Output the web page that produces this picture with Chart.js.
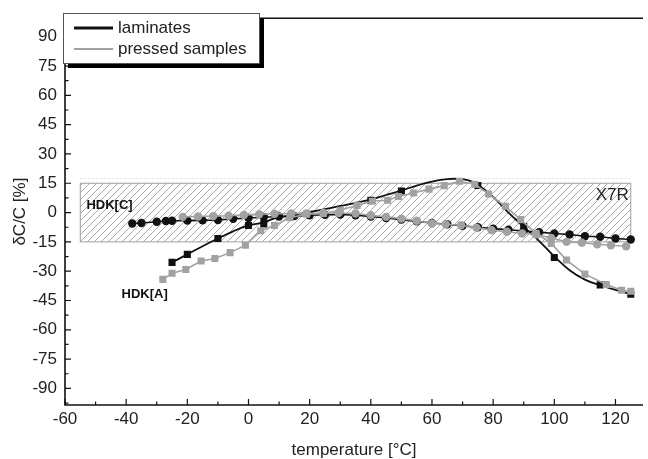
<!DOCTYPE html>
<html>
<head>
<meta charset="utf-8">
<script src="https://cdn.jsdelivr.net/npm/chart.js@4.4.0/dist/chart.umd.min.js"></script>
<style>
  html, body { margin: 0; padding: 0; background: #fff; }
  #wrap { width: 648px; height: 459px; }
</style>
</head>
<body>
<div id="wrap"><canvas id="chart" width="648" height="459"></canvas></div>
<script>
// HDK[C] laminates (black circles)
const lamCTemp = [-38,-35,-30,-27,-25,-20,-15,-10,-5,0,5,10,15,20,25,30,35,40,45,50,55,60,65,70,75,80,85,90,95,100,105,110,115,120,125];
const lamCVal  = [-5.6,-5.3,-4.7,-4.3,-4.2,-4.1,-4.0,-3.8,-3.2,-2.8,-2.4,-2.0,-1.8,-1.4,-1.1,-1.0,-1.4,-2.0,-2.8,-3.6,-4.5,-5.3,-6.0,-6.8,-7.5,-8.2,-8.8,-9.4,-10.0,-10.7,-11.2,-12.1,-12.4,-13.3,-13.8];

// HDK[C] pressed samples (grey circles)
const pressCTemp = [-21.5,-16.5,-11.5,-6.5,-1.5,3.5,8.5,14,19,24.5,29.5,35,40,45,50,55,60,64.5,69.5,74.5,79.5,84.5,89.5,94,99,104,109,114,118.5,123.5];
const pressCVal  = [-2.2,-2.0,-1.8,-1.6,-1.2,-0.9,-0.6,-0.5,-0.5,-0.2,-0.2,-0.5,-1.4,-2.2,-3.1,-4.2,-5.6,-6.0,-6.5,-7.7,-9.0,-9.8,-10.7,-11.1,-13.0,-15.0,-15.4,-16.2,-16.7,-17.2];

// HDK[A] laminates (black squares) and the fitted curve through them
const lamATemp = [-25,-20,-10,0,5,40,50,75,90,100,115,125];
const lamAVal  = [-25.5,-21.4,-13.3,-6.6,-5.8,6.3,11.0,13.9,-7.2,-23.0,-37.0,-41.8];
const fitTemp = [-25,-20,-15,-10,-5,0,5,8,12,16,20,25,30,35,40,45,50,55,60,65,68,72,75,80,85,90,95,100,105,110,115,120,125];
const fitVal  = [-25.5,-21.4,-17.2,-13.3,-9.6,-6.6,-5.0,-3.2,-1.9,-0.8,0.3,1.8,3.4,5.0,6.8,9.0,11.3,13.8,15.9,17.1,17.3,16.5,14.2,8.0,0,-7.3,-14.5,-22.5,-29.5,-34.3,-37.2,-39.6,-41.7];

// HDK[A] pressed samples (grey squares)
const pressATemp = [-28,-25,-20.5,-15.5,-11,-6,-1,4,8.5,13.5,19,24.5,30,35.5,40.5,45.5,49,54,59,64,69,74,78.5,84,89,94,99,104,110,117,122,125];
const pressAVal  = [-34.2,-31.1,-29.1,-24.8,-23.5,-20.5,-16.7,-9.3,-6.6,-2.6,-0.8,-0.5,1.2,3.7,5.8,6.3,8.2,10.0,12.0,13.8,16.0,14.5,9.5,3.2,-3.6,-10.6,-15.8,-24.3,-31.5,-36.8,-39.8,-40.3];

// X7R tolerance band
const bandTemp = [-55, 125];
const bandVal = [-15, 15];

const legendLabels = ['laminates', 'pressed samples'];
const curveLabels = [
  {text: 'HDK[C]', x: -53, y: 3.8},
  {text: 'HDK[A]', x: -41.5, y: -42}
];

const xMajor = [-60,-40,-20,0,20,40,60,80,100,120];
const xMinor = [-50,-30,-10,10,30,50,70,90,110];
const yMajor = [-90,-75,-60,-45,-30,-15,0,15,30,45,60,75,90];
const yMinor = [-97.5,-82.5,-67.5,-52.5,-37.5,-22.5,-7.5,7.5,22.5,37.5,52.5,67.5,82.5,97.5];

const BLACK = '#111';
const GREY = '#a2a2a2';
const FONT = '"Liberation Sans", Arial, sans-serif';

const pts = (xs, ys) => xs.map((x, i) => ({x: x, y: ys[i]}));

function hatchPattern(ctx) {
  const c = document.createElement('canvas');
  c.width = 7; c.height = 7;
  const p = c.getContext('2d');
  p.strokeStyle = '#ababab';
  p.lineWidth = 1;
  p.beginPath();
  p.moveTo(0, 7); p.lineTo(7, 0);
  p.moveTo(-1, 1); p.lineTo(1, -1);
  p.moveTo(6, 8); p.lineTo(8, 6);
  p.stroke();
  return ctx.createPattern(c, 'repeat');
}

const bandPlugin = {
  id: 'band',
  beforeDatasetsDraw(chart) {
    const {ctx, scales: {x, y}} = chart;
    const l = x.getPixelForValue(bandTemp[0]), r = x.getPixelForValue(bandTemp[1]);
    const t = y.getPixelForValue(bandVal[1]), b = y.getPixelForValue(bandVal[0]);
    ctx.save();
    ctx.fillStyle = hatchPattern(ctx);
    ctx.fillRect(l, t, r - l, b - t);
    ctx.strokeStyle = '#a0a0a0';
    ctx.lineWidth = 1;
    ctx.strokeRect(l, t, r - l, b - t);
    // faint line just above the band
    ctx.strokeStyle = '#e2e2e2';
    ctx.setLineDash([2, 2]);
    const t2 = y.getPixelForValue(17.5);
    ctx.beginPath(); ctx.moveTo(l, t2); ctx.lineTo(r, t2); ctx.stroke();
    ctx.setLineDash([]);
    ctx.fillStyle = '#222';
    ctx.font = '17px ' + FONT;
    ctx.textAlign = 'right';
    ctx.textBaseline = 'middle';
    ctx.fillText('X7R', r - 2, y.getPixelForValue(9));
    ctx.restore();
  }
};

const framePlugin = {
  id: 'frame',
  afterDraw(chart) {
    const {ctx, chartArea: a, scales: {x, y}} = chart;
    ctx.save();
    ctx.strokeStyle = BLACK;
    ctx.lineWidth = 1.6;
    ctx.beginPath();
    ctx.moveTo(a.left, a.top); ctx.lineTo(a.right, a.top);
    ctx.moveTo(a.left, a.top); ctx.lineTo(a.left, a.bottom);
    ctx.lineTo(a.right, a.bottom);
    ctx.stroke();

    ctx.lineWidth = 1.2;
    ctx.beginPath();
    xMajor.forEach(v => { const px = x.getPixelForValue(v); ctx.moveTo(px, a.bottom); ctx.lineTo(px, a.bottom - 6); });
    xMinor.forEach(v => { const px = x.getPixelForValue(v); ctx.moveTo(px, a.bottom); ctx.lineTo(px, a.bottom - 3.5); });
    yMajor.forEach(v => { const py = y.getPixelForValue(v); ctx.moveTo(a.left, py); ctx.lineTo(a.left + 6, py); });
    yMinor.forEach(v => { const py = y.getPixelForValue(v); ctx.moveTo(a.left, py); ctx.lineTo(a.left + 3.5, py); });
    ctx.stroke();

    // curve labels
    ctx.fillStyle = BLACK;
    ctx.font = 'bold 13px ' + FONT;
    ctx.textAlign = 'left';
    ctx.textBaseline = 'middle';
    curveLabels.forEach(c => ctx.fillText(c.text, x.getPixelForValue(c.x), y.getPixelForValue(c.y)));

    // legend box with drop shadow
    const bx = 63, by = 13, bw = 196, bh = 50;
    ctx.fillStyle = '#000';
    ctx.fillRect(bx + 5, by + 5, bw, bh);
    ctx.fillStyle = '#fff';
    ctx.fillRect(bx, by, bw, bh);
    ctx.strokeStyle = '#555';
    ctx.lineWidth = 1;
    ctx.strokeRect(bx + 0.5, by + 0.5, bw, bh);
    const rows = [[BLACK, 3], [GREY, 2]];
    ctx.font = '17px ' + FONT;
    legendLabels.forEach((lab, i) => {
      const ly = by + 15 + i * 21;
      ctx.strokeStyle = rows[i][0];
      ctx.lineWidth = rows[i][1];
      ctx.beginPath(); ctx.moveTo(bx + 11, ly); ctx.lineTo(bx + 50, ly); ctx.stroke();
      ctx.fillStyle = '#222';
      ctx.fillText(lab, bx + 55, ly);
    });
    ctx.restore();
  }
};

const chart = new Chart(document.getElementById('chart'), {
  type: 'scatter',
  data: {
    datasets: [
      {
        label: 'HDK[A] pressed samples',
        data: pts(pressATemp, pressAVal),
        showLine: true, borderColor: GREY, borderWidth: 1.6,
        pointStyle: 'rect', pointRadius: 5, backgroundColor: GREY, pointBorderWidth: 0,
        order: 0
      },
      {
        label: 'HDK[C] pressed samples',
        data: pts(pressCTemp, pressCVal),
        showLine: true, borderColor: GREY, borderWidth: 1.6,
        pointStyle: 'circle', pointRadius: 4.2, backgroundColor: GREY, pointBorderWidth: 0,
        order: 1
      },
      {
        label: 'HDK[A] laminates',
        data: pts(lamATemp, lamAVal),
        showLine: false,
        pointStyle: 'rect', pointRadius: 5, backgroundColor: BLACK, pointBorderWidth: 0,
        order: 2
      },
      {
        label: 'HDK[C] laminates',
        data: pts(lamCTemp, lamCVal),
        showLine: true, borderColor: BLACK, borderWidth: 1.6,
        pointStyle: 'circle', pointRadius: 4.2, backgroundColor: BLACK, pointBorderWidth: 0,
        order: 3
      },
      {
        label: 'HDK[A] laminates fit',
        data: pts(fitTemp, fitVal),
        showLine: true, borderColor: BLACK, borderWidth: 1.8,
        pointRadius: 0, tension: 0.4,
        order: 4
      }
    ]
  },
  options: {
    responsive: false,
    animation: false,
    events: [],
    layout: { padding: { top: 13.5, right: 0, left: 0, bottom: 0 } },
    plugins: { legend: { display: false }, tooltip: { enabled: false } },
    scales: {
      x: {
        type: 'linear', min: -60, max: 129,
        border: { display: false },
        grid: { display: false, drawTicks: false },
        ticks: {
          stepSize: 20, includeBounds: false, padding: 4, color: '#222',
          font: { family: FONT, size: 17 },
          callback: v => (v % 20 === 0 ? v : '')
        },
        title: {
          display: true, text: 'temperature [°C]', color: '#222',
          font: { family: FONT, size: 17, lineHeight: 1 },
          padding: { top: 0, bottom: 0 }
        },
        afterFit: s => { s.height = 54; }
      },
      y: {
        type: 'linear', min: -98.5, max: 99.5,
        border: { display: false },
        grid: { display: false, drawTicks: false },
        ticks: {
          stepSize: 15, includeBounds: false, padding: 8, color: '#222',
          font: { family: FONT, size: 17 }
        },
        afterBuildTicks: s => { s.ticks = yMajor.map(v => ({value: v})); },
        title: {
          display: true, text: 'δC/C [%]', color: '#222',
          font: { family: FONT, size: 17, lineHeight: 1 },
          padding: { top: 12, bottom: 0 }
        },
        afterFit: s => { s.width = 65; }
      }
    }
  },
  plugins: [bandPlugin, framePlugin]
});
</script>
</body>
</html>
